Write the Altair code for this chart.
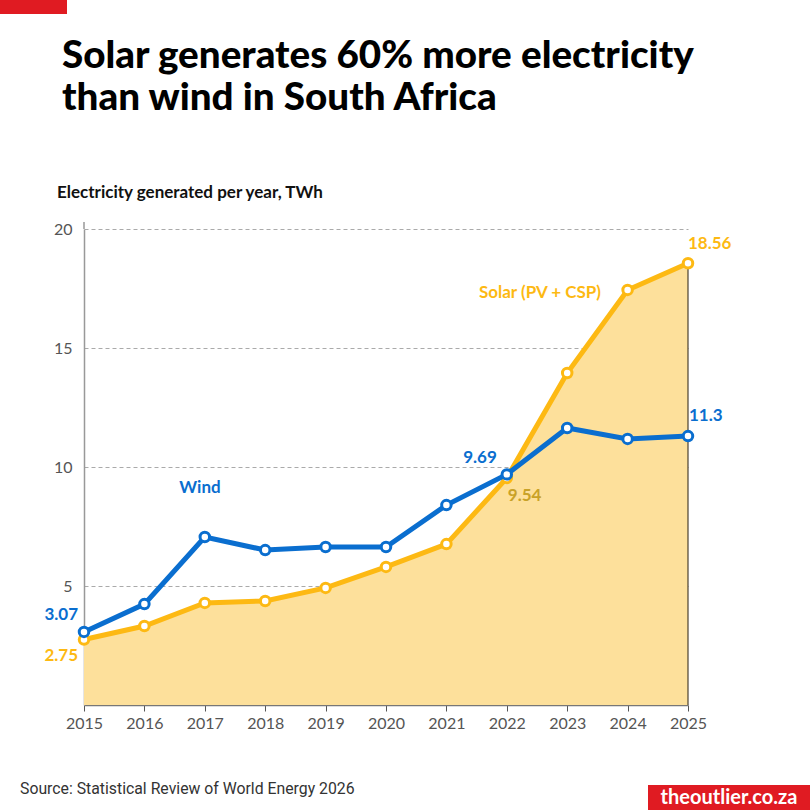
import altair as alt
import pandas as pd

# Annual electricity generation in South Africa, TWh
years = [2015, 2016, 2017, 2018, 2019, 2020, 2021, 2022, 2023, 2024, 2025]
wind = [3.07, 4.24, 7.06, 6.51, 6.64, 6.64, 8.40, 9.69, 11.64, 11.18, 11.3]
solar = [2.75, 3.32, 4.29, 4.37, 4.92, 5.80, 6.76, 9.54, 13.95, 17.44, 18.56]

title_1 = "Solar generates 60% more electricity"
title_2 = "than wind in South Africa"
subtitle = "Electricity generated per year, TWh"
source = "Source: Statistical Review of World Energy 2026"
brand = "theoutlier.co.za"

WIND_C = "#0a6ecf"
SOLAR_C = "#fdb913"
SOLAR_FILL = "#fde09b"
SOLAR_DARK = "#c9a227"
RED = "#e01b22"
COND = "Lato"

W, H = 604, 476
PAD_L, PAD_T = 84, 229

df = pd.DataFrame({"year": years, "wind": wind, "solar": solar})

x = alt.X("year:Q", scale=alt.Scale(domain=[2015, 2025], nice=False),
          axis=alt.Axis(values=years, format="d", title=None, grid=False,
                        domainColor="#777", domainWidth=1.5, tickColor="#555",
                        tickSize=6, labelColor="#555", labelFont=COND,
                        labelFontSize=16, labelPadding=4, labelFlush=False,
                        labelOverlap=False))
y_axis = alt.Axis(values=[5, 10, 15, 20], title=None, ticks=False,
                  domainColor="#999", domainWidth=1.5, labelColor="#555",
                  labelFont=COND, labelFontSize=16, labelPadding=12,
                  labelFlush=False, labelOverlap=False,
                  gridColor="#aaaaaa", gridDash=[4, 3], gridWidth=1)
yscale = alt.Scale(domain=[0, 20], nice=False)

base = alt.Chart(df)

area = base.mark_area(color=SOLAR_FILL, opacity=1).encode(
    x=x, y=alt.Y("solar:Q", scale=yscale, axis=y_axis))

edge = base.transform_filter(alt.datum.year == 2025).mark_rule(
    color="#4a4030", strokeWidth=1.2).encode(
    x="year:Q", y="solar:Q", y2=alt.datum(0))

solar_line = base.mark_line(color=SOLAR_C, strokeWidth=5).encode(
    x="year:Q", y="solar:Q")
solar_pts = base.mark_point(shape="circle", filled=True, fill="white",
                            stroke=SOLAR_C, strokeWidth=3, size=90,
                            opacity=1).encode(x="year:Q", y="solar:Q")
wind_line = base.mark_line(color=WIND_C, strokeWidth=5).encode(
    x="year:Q", y="wind:Q")
wind_pts = base.mark_point(shape="circle", filled=True, fill="white",
                           stroke=WIND_C, strokeWidth=3, size=90,
                           opacity=1).encode(x="year:Q", y="wind:Q")


def value_label(series, year, color, align, dx, dy):
    return base.transform_filter(alt.datum.year == year).mark_text(
        font=COND, fontSize=17, fontWeight="bold", color=color,
        align=align, baseline="middle", dx=dx, dy=dy).encode(
        x="year:Q", y=f"{series}:Q",
        text=alt.Text(f"{series}:Q", format=".3~f"))


labels = [
    value_label("wind", 2015, WIND_C, "right", -6, -17),
    value_label("solar", 2015, SOLAR_C, "right", -6, 16),
    value_label("wind", 2022, WIND_C, "right", -10, -16),
    value_label("solar", 2022, SOLAR_DARK, "left", 1, 18),
    value_label("solar", 2025, SOLAR_C, "left", 0, -19),
    value_label("wind", 2025, WIND_C, "left", 1, -20),
]


def free_text(text, px, py, size, color, weight="normal", font=COND,
              align="left", baseline="alphabetic", **kw):
    return alt.Chart(pd.DataFrame({"t": [text]})).mark_text(
        font=font, fontSize=size, color=color, fontWeight=weight,
        align=align, baseline=baseline, **kw).encode(
        x=alt.value(px), y=alt.value(py), text="t:N")


def box(x0, x1, y0, y1, color):
    return alt.Chart(pd.DataFrame({"k": [0]})).mark_rect(color=color).encode(
        x=alt.value(x0), x2=alt.value(x1), y=alt.value(y0), y2=alt.value(y1))


# Series names
series_names = [
    free_text("Wind", 200 - PAD_L, 488 - PAD_T, 17, WIND_C, "bold",
              align="center", baseline="middle"),
    free_text("Solar (PV + CSP)", 540 - PAD_L, 293 - PAD_T, 17, SOLAR_C,
              "bold", align="center", baseline="middle"),
]

# Upper end of the y axis line, running a little past the top gridline
axis_top = alt.Chart(pd.DataFrame({"k": [0]})).mark_rule(
    color="#999", strokeWidth=1.5).encode(
    x=alt.value(0), y=alt.value(-7), y2=alt.value(0))

# Header, footer and branding
decor = [
    box(-PAD_L, 67 - PAD_L, -PAD_T, 14 - PAD_T, RED),
    free_text(title_1, 62 - PAD_L, 68 - PAD_T, 38.6, "#000000", 900),
    free_text(title_2, 62 - PAD_L, 110 - PAD_T, 38.6, "#000000", 900),
    free_text(subtitle, 57 - PAD_L, 198 - PAD_T, 17, "#111111", "bold"),
    free_text(source, 20 - PAD_L, 794 - PAD_T, 15.8, "#333333",
              font="Roboto"),
    box(648 - PAD_L, 810 - PAD_L, 785 - PAD_T, 810 - PAD_T, RED),
    free_text(brand, 729 - PAD_L, 798 - PAD_T, 20, "#ffffff", "bold",
              align="center", baseline="middle"),
]

chart = alt.layer(
    area, edge, axis_top, solar_line, solar_pts, wind_line, wind_pts,
    *labels, *series_names, *decor
).properties(
    width=W, height=H,
    autosize=alt.AutoSizeParams(type="none"),
    padding={"left": PAD_L, "top": PAD_T, "right": 810 - PAD_L - W,
             "bottom": 810 - PAD_T - H},
    background="white",
).configure_view(stroke=None)

chart.save("out.html", embed_options={"renderer": "svg", "actions": False})
